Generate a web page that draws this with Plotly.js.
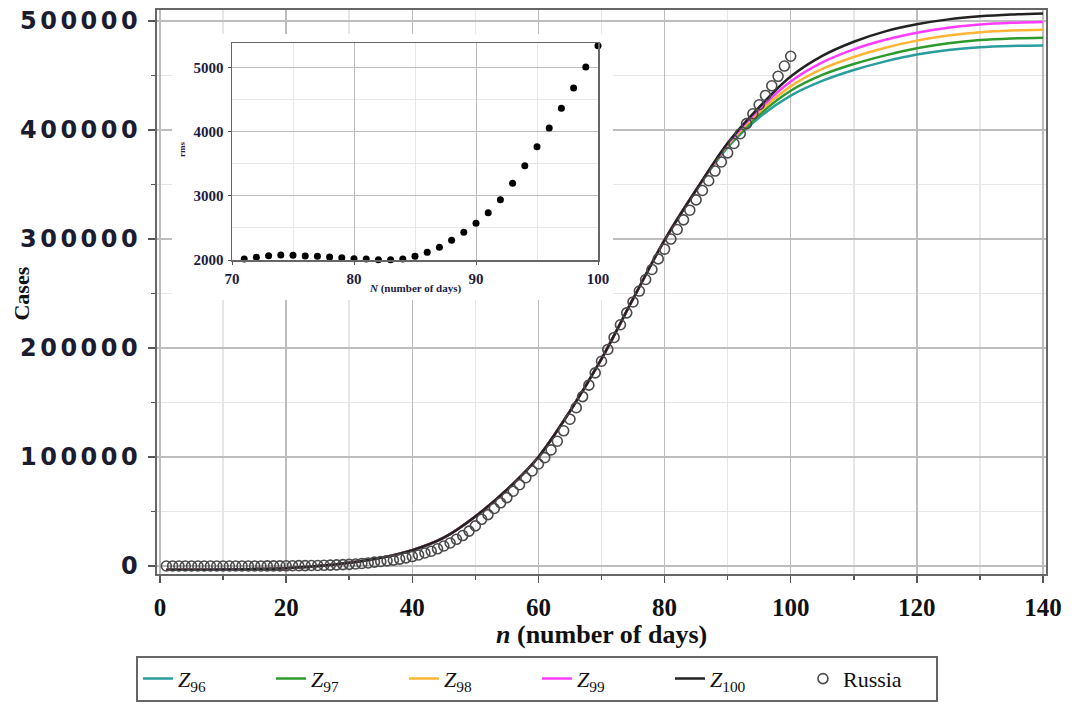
<!DOCTYPE html>
<html>
<head>
<meta charset="utf-8">
<script src="https://cdn.plot.ly/plotly-3.0.1.min.js"></script>
<style>
  html, body { margin: 0; padding: 0; background: #ffffff; }
  #main { position: absolute; left: 0; top: 0; width: 1075px; height: 704px; }
  #inset { position: absolute; left: 172px; top: 34px; width: 441px; height: 266px; }
  #main .ytick text { letter-spacing: 3.5px; }
</style>
</head>
<body>
<div id="main"></div>
<div id="inset"></div>
<script>
// ---- model curves ----
const days = [1, 10, 20, 25, 30, 35, 40, 45, 50, 55, 60, 65, 70, 75, 80, 85, 90, 95, 100, 105, 110, 115, 120, 125, 130, 135, 140];
const z100 = [-3500, -3200, -2000, 0, 3000, 7500, 14500, 26000, 45500, 70000, 100000, 142000, 190000, 245000, 299000, 345000, 388000, 421000, 449000, 468000, 481000, 490500, 497000, 501500, 504300, 506000, 507000];
const z99  = [-3500, -3200, -2000, 0, 3000, 7500, 14500, 26000, 45500, 70000, 100000, 142000, 190000, 245000, 299000, 345000, 387000, 419000, 444500, 462000, 474000, 482800, 489300, 493800, 496700, 498300, 499000];
const z98  = [-3500, -3200, -2000, 0, 3000, 7500, 14500, 26000, 45500, 70000, 100000, 142000, 190000, 245000, 299000, 345000, 386000, 416500, 440000, 456000, 467000, 475500, 482000, 486600, 489600, 491200, 492000];
const z97  = [-3500, -3200, -2000, 0, 3000, 7500, 14500, 26000, 45500, 70000, 100000, 142000, 190000, 245000, 299000, 345000, 385000, 414000, 436000, 450500, 460500, 468500, 475000, 479500, 482500, 484000, 484700];
const z96  = [-3500, -3200, -2000, 0, 3000, 7500, 14500, 26000, 45500, 70000, 100000, 142000, 190000, 245000, 299000, 345000, 384000, 411500, 431500, 445000, 455000, 463000, 469300, 473500, 476000, 477100, 477500];

// ---- observed data: Russia, days 1..100 ----
const russiaDays = Array.from({length: 100}, (_, i) => i + 1);
const russia = [2, 2, 3, 3, 3, 4, 13, 13, 17, 17,
  20, 20, 28, 45, 59, 63, 90, 114, 147, 199,
  253, 306, 367, 438, 495, 658, 840, 1036, 1264, 1534,
  1836, 2337, 2777, 3548, 4149, 4731, 5389, 6343, 7497, 8672,
  10131, 11917, 13584, 15770, 18328, 21102, 24490, 27938, 32008, 36793,
  42853, 47121, 52763, 57999, 62773, 68622, 74588, 80949, 87147, 93558,
  99399, 106498, 114431, 124054, 134686, 145268, 155370, 165929, 177160, 187859,
  198676, 209688, 221344, 232243, 242271, 252245, 262843, 272043, 281752, 290678,
  299941, 308705, 317554, 326448, 335882, 344481, 353427, 362342, 370680, 379051,
  387623, 396575, 405843, 414878, 423186, 431715, 440538, 449256, 458689, 467673];

// ---- inset: rms vs N ----
const insetN = [70, 71, 72, 73, 74, 75, 76, 77, 78, 79, 80, 81, 82, 83, 84, 85, 86, 87, 88, 89, 90, 91, 92, 93, 94, 95, 96, 97, 98, 99, 100];
const insetRms = [1990, 2016, 2042, 2067, 2078, 2073, 2062, 2057, 2047, 2036, 2021, 2016, 2005, 2005, 2016, 2057, 2119, 2197, 2306, 2431, 2571, 2737, 2939, 3193, 3469, 3764, 4055, 4361, 4678, 5005, 5337];

const seriesNames = ['<i>Z</i><sub>96</sub>', '<i>Z</i><sub>97</sub>', '<i>Z</i><sub>98</sub>', '<i>Z</i><sub>99</sub>', '<i>Z</i><sub>100</sub>'];
const seriesVals = [z96, z97, z98, z99, z100];
const seriesColors = ['#2a9d9d', '#2e9a2e', '#ffb534', '#ff3cff', '#222222'];

const traces = seriesVals.map((v, i) => ({
  x: days, y: v, type: 'scatter', mode: 'lines', name: seriesNames[i],
  line: {color: seriesColors[i], width: 2.5, shape: 'spline', smoothing: 0.9}
}));
traces.push({
  x: russiaDays, y: russia, type: 'scatter', mode: 'markers', name: 'Russia',
  marker: {symbol: 'circle-open', size: 10, color: '#4a4a4a', line: {width: 1.6, color: '#4a4a4a'}}
});

const tickFontY = {family: 'DejaVu Sans', size: 24, color: '#1c1c30', weight: 'bold'};
const tickFontX = {family: 'Liberation Serif, serif', size: 25, color: '#111111', weight: 'bold'};

const layout = {
  width: 1075, height: 704,
  margin: {l: 157, r: 29, t: 10, b: 130, autoexpand: false},
  paper_bgcolor: '#ffffff', plot_bgcolor: '#ffffff',
  showlegend: true,
  legend: {
    orientation: 'h', x: 0.4274, xanchor: 'center', y: -0.145, yanchor: 'top',
    bordercolor: '#666666', borderwidth: 2, bgcolor: '#ffffff',
    font: {family: 'Liberation Serif, serif', size: 22, color: '#111111'},
    entrywidth: 88, tracegroupgap: 0
  },
  xaxis: {
    range: [-0.48, 140.48], tickvals: [0, 20, 40, 60, 80, 100, 120, 140],
    ticks: 'outside', ticklen: 7, tickwidth: 1.5, tickcolor: '#555555',
    showgrid: true, gridcolor: '#bdbdbd', gridwidth: 1.5, zeroline: false,
    showline: true, linecolor: '#666666', linewidth: 2, mirror: true,
    tickfont: tickFontX, ticklabelstandoff: 3,
    minor: {dtick: 10, tick0: 0, ticks: 'outside', ticklen: 4, tickcolor: '#555555', showgrid: true, gridcolor: '#e6e6e6', gridwidth: 1.5}
  },
  yaxis: {
    range: [-7340, 510100], tickvals: [0, 100000, 200000, 300000, 400000, 500000],
    ticktext: ['0', '100000', '200000', '300000', '400000', '500000'],
    ticks: 'outside', ticklen: 7, tickwidth: 1.5, tickcolor: '#555555',
    showgrid: true, gridcolor: '#bdbdbd', gridwidth: 1.5, zeroline: false,
    showline: true, linecolor: '#666666', linewidth: 2, mirror: true,
    tickfont: tickFontY, ticklabelstandoff: 2,
    minor: {dtick: 50000, tick0: 0, ticks: 'outside', ticklen: 4, tickcolor: '#555555', showgrid: true, gridcolor: '#e6e6e6', gridwidth: 1.5}
  },
  annotations: [
    {text: '<b><i>n</i> (number of days)</b>', xref: 'paper', yref: 'paper', x: 0.5, y: -0.108, xanchor: 'center', yanchor: 'middle',
     showarrow: false, font: {family: 'Liberation Serif, serif', size: 26, color: '#111111'}},
    {text: '<b>Cases</b>', xref: 'paper', yref: 'paper', x: -0.152, y: 0.497, xanchor: 'center', yanchor: 'middle', textangle: -90,
     showarrow: false, font: {family: 'Liberation Serif, serif', size: 22, color: '#111111'}}
  ]
};

Plotly.newPlot('main', traces, layout, {staticPlot: true, displayModeBar: false});

// ---- inset ----
const insetTickFont = {family: 'Liberation Serif, serif', size: 15, color: '#1c1c40', weight: 'bold'};
const insetLayout = {
  width: 441, height: 266,
  margin: {l: 60, r: 15, t: 9, b: 40, autoexpand: false},
  paper_bgcolor: '#ffffff', plot_bgcolor: '#ffffff', showlegend: false,
  xaxis: {
    range: [70, 100], tickvals: [70, 80, 90, 100],
    ticks: 'outside', ticklen: 3, tickcolor: '#555', showgrid: true, gridcolor: '#bdbdbd', zeroline: false,
    showline: true, linecolor: '#666666', linewidth: 1.5, mirror: true, tickfont: insetTickFont, ticklabelstandoff: 1,
    minor: {dtick: 5, tick0: 70, showgrid: true, gridcolor: '#e8e8e8'}
  },
  yaxis: {
    range: [2000, 5378], tickvals: [2000, 3000, 4000, 5000],
    ticks: 'outside', ticklen: 3, tickcolor: '#555', showgrid: true, gridcolor: '#bdbdbd', zeroline: false,
    showline: true, linecolor: '#666666', linewidth: 1.5, mirror: true, tickfont: insetTickFont, ticklabelstandoff: 1,
    minor: {dtick: 500, tick0: 2000, showgrid: true, gridcolor: '#e8e8e8'}
  },
  annotations: [
    {text: '<b><i>N</i> (number of days)</b>', xref: 'paper', yref: 'paper', x: 0.5, y: -0.13, xanchor: 'center', yanchor: 'middle',
     showarrow: false, font: {family: 'Liberation Serif, serif', size: 11, color: '#1c1c40'}},
    {text: '<b>rms</b>', xref: 'paper', yref: 'paper', x: -0.135, y: 0.51, xanchor: 'center', yanchor: 'middle', textangle: -90,
     showarrow: false, font: {family: 'Liberation Serif, serif', size: 9, color: '#1c1c40'}}
  ]
};
Plotly.newPlot('inset', [{
  x: insetN, y: insetRms, type: 'scatter', mode: 'markers', cliponaxis: false,
  marker: {color: '#000000', size: 7}
}], insetLayout, {staticPlot: true, displayModeBar: false});
</script>
</body>
</html>
